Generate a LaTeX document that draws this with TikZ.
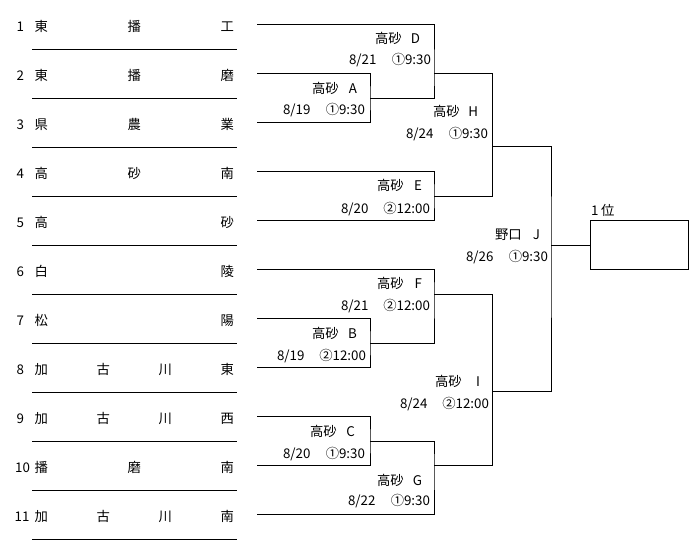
\documentclass[tikz,border=0pt]{standalone}
\usepackage{fontspec}
\setmainfont{Noto Sans CJK JP}
\newcommand{\nmbox}[1]{\makebox[33.75pt][l]{#1}}
\newcommand{\dtshort}[1]{\makebox[61.5pt][l]{#1}}
\newcommand{\dtlong}[1]{\makebox[66.75pt][l]{#1}}
\begin{document}
\begin{tikzpicture}[x=0.75pt,y=-0.75pt,
  every node/.style={inner sep=0pt, outer sep=0pt, font=\fontsize{10pt}{12pt}\selectfont, text height=8.8pt, text depth=1.2pt},
  ln/.style={line width=0.75pt, black},
  lbl/.style={anchor=east},
  winbox/.style={draw, line width=0.75pt, minimum width=73.5pt, minimum height=36.75pt, anchor=west}]
\useasboundingbox (0,0) rectangle (700,555);

% team list
\foreach \i/\nx/\nm in {1/24/{東\hfill 播\hfill 工}, 2/24/{東\hfill 播\hfill 磨}, 3/24/{県\hfill 農\hfill 業},
  4/24/{高\hfill 砂\hfill 南}, 5/24/{高\hfill 砂}, 6/24/{白\hfill 陵}, 7/24/{松\hfill 陽},
  8/24/{加\hfill 古\hfill 川\hfill 東}, 9/24/{加\hfill 古\hfill 川\hfill 西}, 10/30/{播\hfill 磨\hfill 南},
  11/29.5/{加\hfill 古\hfill 川\hfill 南}}{
  \node[anchor=east] (k\i) at (\nx, {26.5+49*(\i-1)}) {\i};
  \node[anchor=west] (n\i) at (34.5, {26.5+49*(\i-1)}) {\makebox[149.5pt][l]{\nm}};
  \coordinate (sl\i) at (32, {49.3+49*(\i-1)});
  \coordinate (sr\i) at (237, {49.3+49*(\i-1)});
  \draw[ln] (sl\i) -- (sr\i);
  \coordinate (s\i) at (257, {25+49*(\i-1)});
}

% match points
\coordinate (mA) at (370, 98.3);
\coordinate (mB) at (370, 343.3);
\coordinate (mC) at (370, 441.7);
\coordinate (mD) at (434, 74);
\coordinate (mE) at (434, 196.5);
\coordinate (mF) at (434, 294.3);
\coordinate (mG) at (434, 466);
\coordinate (mH) at (492.5, 147);
\coordinate (mI) at (492.5, 392);
\coordinate (mJ) at (551, 245.5);
\node[winbox] (win) at (590.7, 245.5) {};

% bracket
\draw[ln] (s2) -| (mA) |- (s3);
\draw[ln] (s7) -| (mB) |- (s8);
\draw[ln] (s9) -| (mC) |- (s10);
\draw[ln] (s1) -| (mD) |- (mA);
\draw[ln] (s4) -| (mE) |- (s5);
\draw[ln] (s6) -| (mF) |- (mB);
\draw[ln] (mC) -| (mG) |- (s11);
\draw[ln] (mD) -| (mH) |- (mE);
\draw[ln] (mF) -| (mI) |- (mG);
\draw[ln] (mH) -| (mJ) |- (mI);
\draw[ln] (mJ) -- (win);

% labels
\node[lbl] (lD) at (420, 38) {\nmbox{高砂\hfill D}};
\node[lbl] (dD) at (431, 59.5) {\dtshort{8/21\hfill ①9:30}};
\node[lbl] (lA) at (357, 88) {\nmbox{高砂\hfill A}};
\node[lbl] (dA) at (365, 109.5) {\dtshort{8/19\hfill ①9:30}};
\node[lbl] (lH) at (478, 111.7) {\nmbox{高砂\hfill H}};
\node[lbl] (dH) at (488, 133) {\dtshort{8/24\hfill ①9:30}};
\node[lbl] (lE) at (422, 185.7) {\nmbox{高砂\hfill E}};
\node[lbl] (dE) at (430, 208) {\dtlong{8/20\hfill ②12:00}};
\node[lbl] (lJ) at (540, 234) {\nmbox{野口\hfill J}};
\node[lbl] (dJ) at (548, 256.7) {\dtshort{8/26\hfill ①9:30}};
\node[lbl] (lF) at (422, 283) {\nmbox{高砂\hfill F}};
\node[lbl] (dF) at (430, 305) {\dtlong{8/21\hfill ②12:00}};
\node[lbl] (lB) at (357, 333) {\nmbox{高砂\hfill B}};
\node[lbl] (dB) at (366, 355) {\dtlong{8/19\hfill ②12:00}};
\node[lbl] (lI) at (480, 381.7) {\nmbox{高砂\hfill I}};
\node[lbl] (dI) at (489, 403) {\dtlong{8/24\hfill ②12:00}};
\node[lbl] (lC) at (355, 431.7) {\nmbox{高砂\hfill C}};
\node[lbl] (dC) at (365, 453) {\dtshort{8/20\hfill ①9:30}};
\node[lbl] (lG) at (422, 480) {\nmbox{高砂\hfill G}};
\node[lbl] (dG) at (430, 500.7) {\dtshort{8/22\hfill ①9:30}};
\node[anchor=west] (first) at (591, 210.7) {1\hspace{2pt}位};
\end{tikzpicture}
\end{document}
